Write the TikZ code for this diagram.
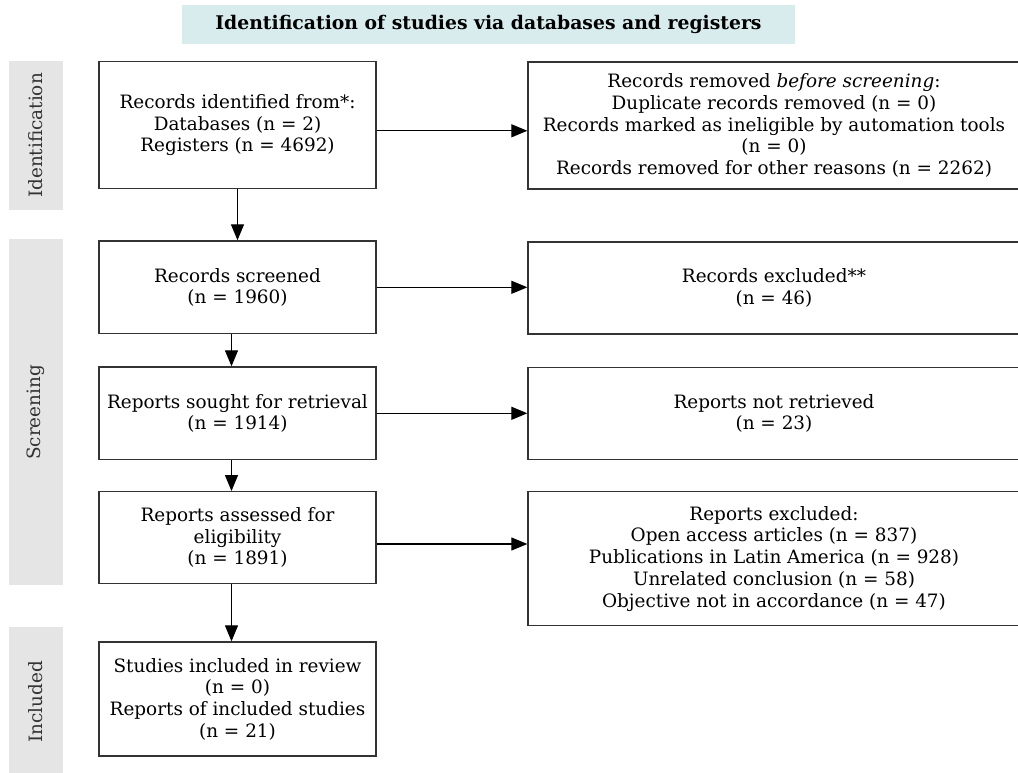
\documentclass[tikz,border=0pt]{standalone}
\usepackage{fontspec}
\setmainfont{DejaVu Serif}
\usetikzlibrary{arrows.meta}
\definecolor{headcyan}{RGB}{216,236,238}
\definecolor{sidegray}{RGB}{229,229,229}
\definecolor{framegray}{RGB}{51,51,51}

\begin{document}
\begin{tikzpicture}[
  x=1pt, y=-1pt,
  every node/.style = {align=center, inner sep=0pt,
    font=\fontsize{18.4}{21.7}\selectfont},
  box/.style = {draw=framegray, line width=1.3pt, minimum width=277pt},
  wide/.style = {box, minimum width=492pt},
  side/.style = {fill=sidegray, text=framegray, rotate=90, minimum height=54pt},
  arr/.style = {-{Triangle[length=16pt,width=13pt]}, line width=1.2pt}
  ]
  \useasboundingbox (0,0) rectangle (1018,773);
  \node[fill=headcyan, minimum width=613pt, minimum height=39pt,
    font=\fontsize{18.8}{21.7}\selectfont\bfseries] (head) at (488.5,24.5)
    {Identification of studies via databases and registers};

  \node[side, minimum width=149pt] (sideid) at (35.5,135.5) {Identification};
  \node[side, minimum width=346pt] (sidescr) at (35.5,412.3) {Screening};
  \node[side, minimum width=150pt] (sideinc) at (35.5,702) {Included};

  \node[box, minimum height=127pt] (ident) at (237.5,125.3)
    {Records identified from*:\\ Databases (n = 2)\\ Registers (n = 4692)};
  \node[wide, minimum height=127pt] (removed) at (774,125.5)
    {Records removed \emph{before screening}:\\ Duplicate records removed (n = 0)\\
     Records marked as ineligible by automation tools\\ (n = 0)\\
     Records removed for other reasons (n = 2262)};
  \node[box, minimum height=92.7pt] (screened) at (237.5,287.3)
    {Records screened\\ (n = 1960)};
  \node[wide, minimum height=92pt] (recexcl) at (774,288)
    {Records excluded**\\ (n = 46)};
  \node[box, minimum height=92.7pt] (sought) at (237.5,413.3)
    {Reports sought for retrieval\\ (n = 1914)};
  \node[wide, minimum height=92pt] (notretr) at (774,413.5)
    {Reports not retrieved\\ (n = 23)};
  \node[box, minimum height=92pt] (assessed) at (237.5,537.7)
    {Reports assessed for\\ eligibility\\ (n = 1891)};
  \node[wide, minimum height=134pt] (repexcl) at (774,558.7)
    {Reports excluded:\\ Open access articles (n = 837)\\
     Publications in Latin America (n = 928)\\ Unrelated conclusion (n = 58)\\
     Objective not in accordance (n = 47)};
  \node[box, minimum height=114pt] (included) at (237.5,699)
    {Studies included in review\\ (n = 0)\\ Reports of included studies\\ (n = 21)};

  \draw[arr] (ident) -- (screened);
  \draw[arr] ([xshift=-6pt]screened.south) -- ([xshift=-6pt]sought.north);
  \draw[arr] ([xshift=-6pt]sought.south) -- ([xshift=-6pt]assessed.north);
  \draw[arr] ([xshift=-6pt]assessed.south) -- ([xshift=-6pt]included.north);
  \draw[arr] ([yshift=-5.5pt]ident.east) -- ([yshift=-5.5pt]ident.east -| removed.west);
  \draw[arr] (screened.east) -- (screened.east -| recexcl.west);
  \draw[arr] (sought.east) -- (sought.east -| notretr.west);
  \draw[arr] ([yshift=-6.3pt]assessed.east) -- ([yshift=-6.3pt]assessed.east -| repexcl.west);
\end{tikzpicture}
\end{document}
